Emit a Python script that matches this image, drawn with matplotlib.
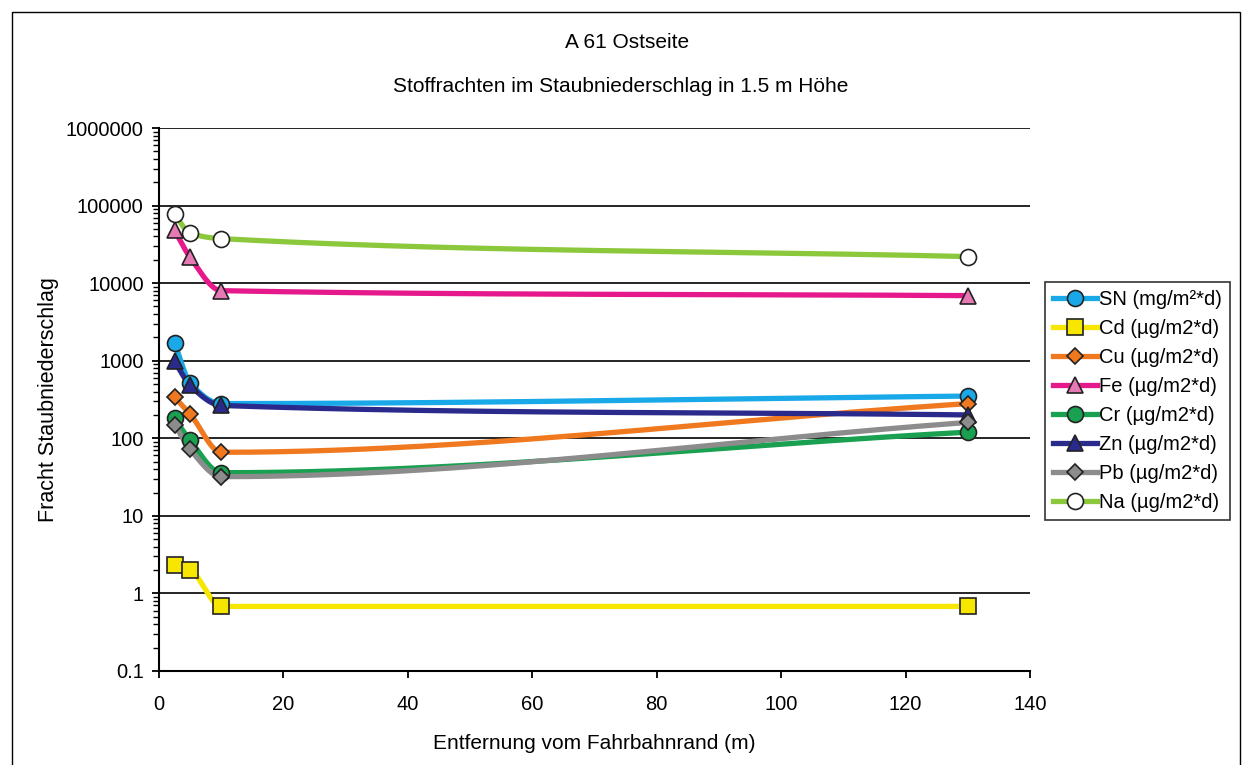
import numpy as np
import matplotlib as mpl
mpl.use('Agg')
import matplotlib.pyplot as plt
from matplotlib.ticker import FixedLocator, LogLocator, NullFormatter

plt.rcParams['font.family'] = ['Liberation Sans', 'DejaVu Sans']

# distance from road edge (m)
dist = [2.5, 5, 10, 130]

sn = [1700, 520, 280, 350]
cd = [2.3, 2.0, 0.68, 0.68]
cu = [340, 205, 66, 280]
fe = [48000, 21500, 8000, 6900]
cr = [180, 94, 36, 120]
zn = [980, 480, 265, 200]
pb = [150, 72, 32, 160]
na = [78000, 44000, 37500, 22000]

labels = ['SN (mg/m²*d)', 'Cd (µg/m2*d)', 'Cu (µg/m2*d)', 'Fe (µg/m2*d)',
          'Cr (µg/m2*d)', 'Zn (µg/m2*d)', 'Pb (µg/m2*d)', 'Na (µg/m2*d)']
yticks = [0.1, 1, 10, 100, 1000, 10000, 100000, 1000000]
ytick_labels = ['0.1', '1', '10', '100', '1000', '10000', '100000', '1000000']

# (line colour, marker, marker face)
styles = [
    ('#19a9e8', 'o', '#19a9e8'),
    ('#f7e600', 's', '#f7e600'),
    ('#f0781e', 'D', '#f0781e'),
    ('#e6198c', '^', '#e678b4'),
    ('#19a050', 'o', '#19a050'),
    ('#2a2a8c', '^', '#2a2a8c'),
    ('#8c8c8c', 'D', '#8c8c8c'),
    ('#8cc83c', 'o', 'white'),
]
series = [sn, cd, cu, fe, cr, zn, pb, na]


def smooth(x, y, n=80):
    # monotone cubic hermite (Fritsch-Carlson) on log10(y)
    x = np.asarray(x, float)
    ly = np.log10(np.asarray(y, float))
    h = np.diff(x)
    d = np.diff(ly) / h
    m = np.zeros_like(ly)
    m[0], m[-1] = d[0], d[-1]
    for i in range(1, len(x) - 1):
        if d[i - 1] * d[i] <= 0:
            m[i] = 0.0
        else:
            w1 = 2 * h[i] + h[i - 1]
            w2 = h[i] + 2 * h[i - 1]
            m[i] = (w1 + w2) / (w1 / d[i - 1] + w2 / d[i])
    xs, ys = [], []
    for i in range(len(x) - 1):
        t = np.linspace(0, 1, n)
        h00 = 2 * t ** 3 - 3 * t ** 2 + 1
        h10 = t ** 3 - 2 * t ** 2 + t
        h01 = -2 * t ** 3 + 3 * t ** 2
        h11 = t ** 3 - t ** 2
        xs.append(x[i] + t * h[i])
        ys.append(h00 * ly[i] + h10 * h[i] * m[i]
                  + h01 * ly[i + 1] + h11 * h[i] * m[i + 1])
    return np.concatenate(xs), 10 ** np.concatenate(ys)


fig = plt.figure(figsize=(12.45, 7.65), dpi=100)
ax = fig.add_axes([159 / 1245, 1 - 671 / 765, 871 / 1245, 543 / 765])

for vals, lab, (col, mk, face) in zip(series, labels, styles):
    ms = 8.5 if mk == 'D' else 11.5
    sx, sy = smooth(dist, vals)
    ax.plot(sx, sy, color=col, lw=3.8, solid_capstyle='round', zorder=2)
    ax.plot(dist, vals, ls='none', marker=mk, ms=ms,
            mfc=face, mec='#222222', mew=1.2, zorder=3)
    ax.plot([], [], color=col, lw=3.8, marker=mk, ms=ms,
            mfc=face, mec='#222222', mew=1.2, label=lab)

ax.set_yscale('log')
ax.set_ylim(0.1, 1000000)
ax.set_xlim(0, 140)
ax.yaxis.set_major_locator(FixedLocator(yticks))
ax.set_yticklabels(ytick_labels)
ax.yaxis.set_minor_locator(LogLocator(base=10, subs=np.arange(2, 10)))
ax.yaxis.set_minor_formatter(NullFormatter())
ax.set_xticks(np.arange(0, 141, 20))

for v in yticks[1:]:
    ax.axhline(v, color='black', lw=1.2, zorder=1)

for s in ['top', 'right']:
    ax.spines[s].set_visible(False)
ax.spines['left'].set_linewidth(1.5)
ax.spines['bottom'].set_linewidth(1.5)
ax.tick_params(axis='both', direction='out', labelsize=14.5, width=1.3, length=5)
ax.tick_params(axis='x', pad=12)
ax.tick_params(axis='y', pad=6)
ax.tick_params(axis='y', which='minor', direction='out', width=1.0, length=4)

ax.set_xlabel('Entfernung vom Fahrbahnrand (m)', fontsize=15, labelpad=15)
ax.set_ylabel('Fracht Staubniederschlag', fontsize=15.5, labelpad=5)

fig.text(627 / 1245, 1 - 42 / 765, 'A 61 Ostseite', ha='center', va='center',
         fontsize=15)
fig.text(621 / 1245, 1 - 87 / 765,
         'Stoffrachten im Staubniederschlag in 1.5 m Höhe', ha='center',
         va='center', fontsize=15)

leg = ax.legend(loc='center left', bbox_to_anchor=(1045 / 1245, 1 - 401 / 765),
                bbox_transform=fig.transFigure, fontsize=14.5, frameon=True,
                fancybox=False, edgecolor='black', handlelength=2.2,
                handletextpad=0.1, labelspacing=0.5, borderpad=0.4,
                borderaxespad=0)
leg.get_frame().set_linewidth(1.2)

# outer chart border
fig.add_artist(plt.Rectangle((12 / 1245, -0.01), 1228 / 1245, 1 - 12 / 765 + 0.01,
                             transform=fig.transFigure, fill=False,
                             edgecolor='black', lw=1.0))

plt.savefig('out.png', dpi=100)
